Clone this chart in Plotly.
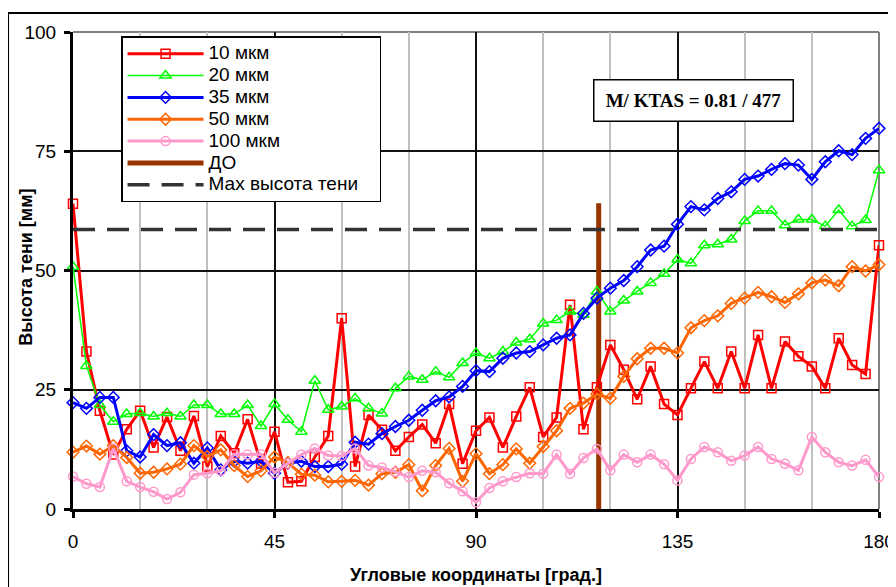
import plotly.graph_objects as go

# ---------------- data ----------------
angles = list(range(0, 181, 3))

s10 = [64, 33.0, 20.6, 11.4, 16.7, 20.6, 12.9, 19.3, 12.2, 19.5,
       8.9, 15.3, 11.7, 18.8, 9.5, 16.2, 5.6, 5.8, 10.9, 15.3,
       40.0, 8.9, 19.7, 16.6, 12.2, 15.1, 17.7, 13.8, 22.0, 9.5,
       16.4, 19.2, 12.9, 19.4, 25.5, 15.1, 19.2, 42.8, 16.7, 25.5,
       34.4, 29.2, 23.0, 29.9, 22.0, 19.7, 25.3, 30.9, 25.3, 33.0,
       25.3, 36.5, 25.3, 35.1, 32.0, 29.9, 25.3, 35.8, 30.2, 28.3, 55.3]

s20 = [50.8, 30.0, 21.8, 18.3, 19.9, 20.1, 19.4, 20.1, 19.4, 21.8,
       21.8, 19.9, 19.9, 21.8, 17.4, 22.0, 18.7, 16.2, 26.9, 20.8,
       21.5, 23.2, 21.1, 20.0, 25.3, 27.8, 27.1, 28.8, 27.6, 30.6,
       32.7, 31.6, 33.0, 34.9, 35.6, 38.9, 39.6, 41.4, 40.7, 45.6,
       41.4, 43.7, 45.6, 47.4, 49.3, 52.3, 51.5, 55.3, 55.5, 56.5,
       60.4, 62.5, 62.5, 59.5, 60.7, 60.7, 59.3, 62.7, 59.3, 60.6, 71.0]

s35 = [22.3, 21.1, 23.4, 23.4, 12.2, 10.9, 15.6, 13.3, 13.9, 9.6,
       12.8, 8.2, 10.0, 9.6, 10.0, 7.5, 9.6, 10.0, 8.9, 8.9,
       9.4, 14.0, 13.6, 15.8, 17.3, 18.6, 20.7, 22.7, 23.5, 25.7,
       29.0, 28.8, 31.6, 32.7, 33.0, 34.4, 35.8, 36.5, 41.0, 44.2,
       46.3, 47.9, 50.8, 54.3, 55.1, 59.7, 63.4, 62.7, 65.1, 66.5,
       69.1, 69.8, 71.2, 72.4, 72.1, 69.1, 72.8, 75.1, 74.3, 77.7, 79.8]

s50 = [11.9, 13.2, 11.5, 13.3, 10.8, 7.5, 7.7, 8.4, 9.4, 13.3,
       11.0, 12.4, 9.1, 6.8, 8.0, 10.9, 9.7, 7.3, 7.1, 5.7,
       5.8, 6.0, 5.0, 7.4, 7.7, 9.3, 3.8, 9.1, 12.7, 5.8,
       11.6, 7.4, 9.3, 12.6, 9.6, 13.1, 16.4, 21.1, 22.2, 24.1,
       23.2, 27.8, 31.5, 33.7, 33.7, 32.7, 38.0, 39.5, 40.5, 43.1,
       44.2, 45.4, 44.5, 43.3, 45.1, 47.4, 48.0, 46.8, 50.8, 49.9, 51.2]

s100 = [6.8, 5.3, 4.6, 12.7, 5.8, 4.6, 3.6, 2.1, 3.5, 7.2,
        7.5, 8.0, 11.5, 11.4, 11.5, 7.6, 9.6, 11.4, 12.7, 11.2,
        11.1, 12.7, 9.1, 8.7, 7.8, 6.7, 8.0, 7.7, 5.4, 3.7,
        1.4, 4.4, 5.8, 6.7, 7.5, 7.4, 11.4, 7.4, 10.7, 12.6,
        8.1, 11.4, 9.8, 11.4, 9.4, 6.0, 10.5, 13.0, 11.9, 10.1,
        11.2, 13.0, 10.5, 9.5, 8.1, 15.1, 11.9, 9.8, 9.1, 10.3, 6.7]

do_x = [117.4, 117.4]
do_y = [0, 64.1]
max_x = [0, 180]
max_y = [58.6, 58.6]

x_ticks = [0, 45, 90, 135, 180]
y_ticks = [0, 25, 50, 75, 100]

names = ["10 мкм", "20 мкм", "35 мкм", "50 мкм", "100 мкм", "ДО", "Мах высота тени"]
annot_text = "M/ KTAS = 0.81 / 477"

# ---------------- figure ----------------
FONT = "Liberation Sans, Arial, sans-serif"


def leg(t, pad=""):
    # legend label rendered at 19px while legend row spacing follows the smaller base size
    return '<span style="font-size:19px">' + t + pad + '</span>'


fig = go.Figure()

# ДО line drawn first (behind), legend rank keeps order
fig.add_trace(go.Scatter(x=do_x, y=do_y, mode="lines", name=leg(names[5]),
                         line=dict(color="#993300", width=5), legendrank=6))

series = [
    (s10, names[0], "#FF0000", 3, "square-open", 9),
    (s20, names[1], "#00FF00", 1.5, "triangle-up-open", 10),
    (s35, names[2], "#0000FF", 3, "diamond-open", 9),
    (s50, names[3], "#FF6600", 3, "diamond-open", 9),
    (s100, names[4], "#FF99CC", 3, "circle-open", 9),
]
for k, (vals, nm, col, lw, sym, ms) in enumerate(series):
    fig.add_trace(go.Scatter(
        x=angles, y=vals, mode="lines+markers", name=leg(nm),
        line=dict(color=col, width=lw),
        marker=dict(symbol=sym, size=ms, color=col, line=dict(color=col, width=1.5)),
        cliponaxis=False, legendrank=k + 1))

fig.add_trace(go.Scatter(x=max_x, y=max_y, mode="lines",
                         name=leg(names[6], "&nbsp;" * 3),
                         line=dict(color="#333333", width=3.5, dash="22px,12px"),
                         legendrank=7))

fig.update_layout(
    width=888, height=579,
    margin=dict(l=65, r=17, t=24, b=78, autoexpand=False),
    paper_bgcolor="white", plot_bgcolor="white",
    font=dict(family=FONT, size=19, color="black"),
    showlegend=True,
    legend=dict(x=0.0596, y=0.991, xanchor="left", yanchor="top",
                bgcolor="white", bordercolor="black", borderwidth=1.5,
                font=dict(family=FONT, size=14.5, color="black"),
                itemwidth=76, tracegroupgap=0),
    xaxis=dict(range=[0, 180], tickvals=x_ticks, ticktext=[str(v) for v in x_ticks],
               showgrid=True, gridcolor="#111111", gridwidth=1.5,
               minor=dict(tickvals=[15, 30, 60, 75, 105, 120, 150, 165], showgrid=True,
                          gridcolor="#C0C0C0", gridwidth=1.5, ticks=""),
               showline=True, linecolor="black", linewidth=3,
               ticks="outside", ticklen=6, tickwidth=3, tickcolor="black",
               ticklabelstandoff=7, zeroline=False, automargin=False),
    yaxis=dict(range=[0, 100], tickvals=y_ticks, ticktext=[str(v) for v in y_ticks],
               showgrid=True, gridcolor="#111111", gridwidth=1.5,
               showline=True, linecolor="black", linewidth=3,
               ticks="outside", ticklen=6, tickwidth=3, tickcolor="black",
               ticklabelstandoff=4, zeroline=False, automargin=False),
)

# plot-area border (grey) at top and right
fig.add_shape(type="line", xref="paper", yref="paper", x0=0, x1=1, y0=1, y1=1,
              line=dict(color="#808080", width=2), layer="between")
fig.add_shape(type="line", xref="paper", yref="paper", x0=1, x1=1, y0=0, y1=1,
              line=dict(color="#808080", width=2), layer="between")
# outer chart frame
fig.add_shape(type="rect", xref="paper", yref="paper",
              x0=-0.0806, x1=1.0186, y0=-0.25, y1=1.0398,
              line=dict(color="black", width=2), fillcolor="rgba(0,0,0,0)", layer="above")

# axis titles
fig.add_annotation(text="<b>Угловые координаты [град.]</b>", xref="paper", yref="paper",
                   x=0.5, y=-0.139, xanchor="center", yanchor="middle", showarrow=False,
                   font=dict(family=FONT, size=18, color="black"))
fig.add_annotation(text="<b>Высота тени [мм]</b>", xref="paper", yref="paper",
                   x=-0.0583, y=0.506, xanchor="center", yanchor="middle", showarrow=False,
                   textangle=-90, font=dict(family=FONT, size=18, color="black"))

# M/KTAS box
fig.add_annotation(text="<b>" + annot_text + "</b>", x=138.5, y=85.7, xref="x", yref="y",
                   showarrow=False, xanchor="center", yanchor="middle",
                   font=dict(family="Liberation Serif, Times New Roman, serif", size=19, color="black"),
                   bgcolor="white", bordercolor="black", borderwidth=1.5,
                   width=196, height=38, borderpad=1)

fig.write_html("out.html")
